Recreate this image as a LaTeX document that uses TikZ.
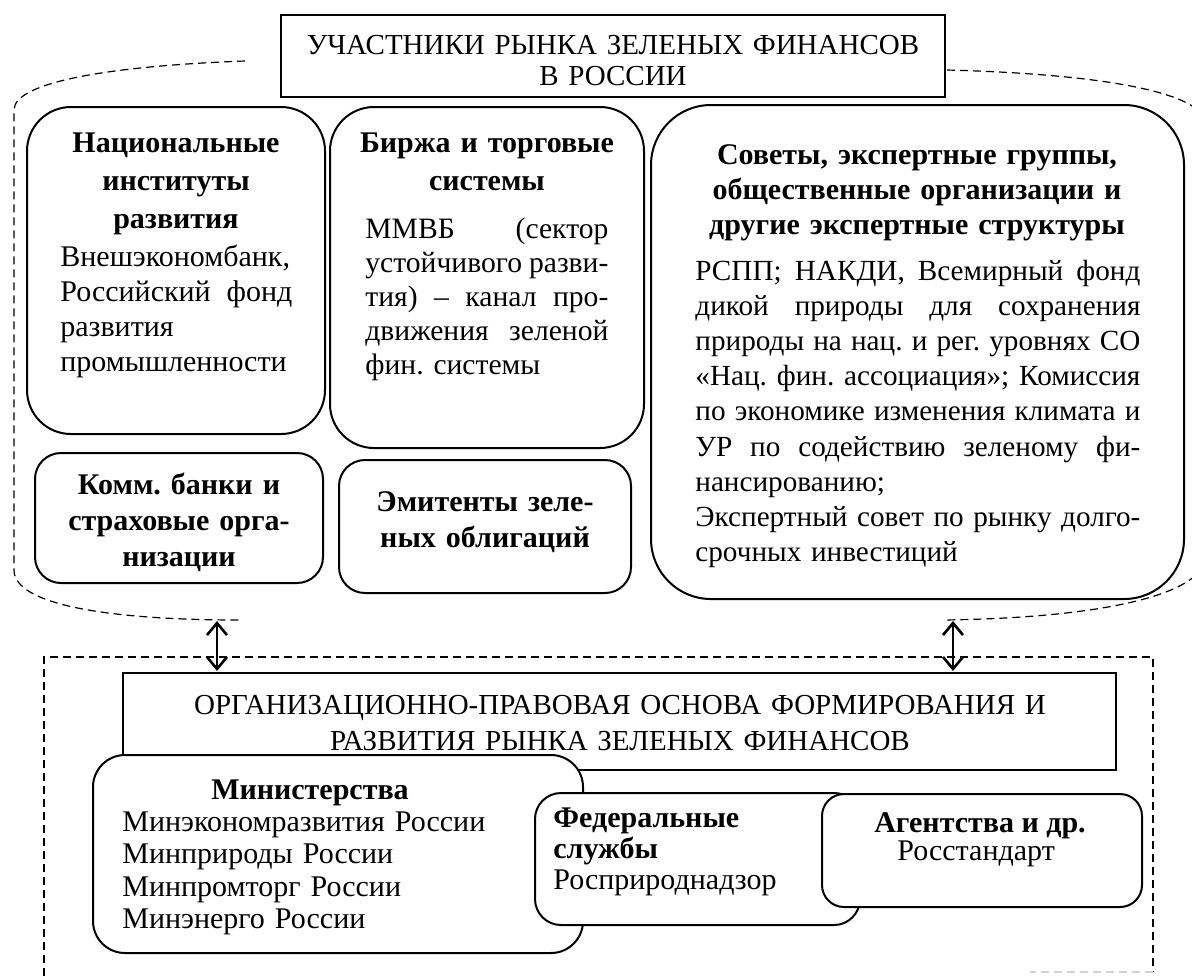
\documentclass[tikz,border=0pt]{standalone}
\usepackage{fontspec}
\setmainfont{Liberation Serif}
\usetikzlibrary{fit,arrows.meta}
\newcommand\jl[2]{\leavevmode\hbox to #1{\spaceskip=.25em plus 1fil minus .12em\relax #2}}
\frenchspacing
\begin{document}
\begin{tikzpicture}[x=0.5pt,y=-0.5pt,
  box/.style={draw,line width=1pt,inner sep=0pt,fill=white},
  tbox/.style={draw,line width=0.9pt,inner sep=0pt,fill=white},
  dsh/.style={line width=0.6pt,dash pattern=on 4pt off 2.5pt},
  txt/.style={inner sep=0pt,font=\fontsize{15}{17.5}\selectfont},
  hd/.style={inner sep=0pt,font=\fontsize{15}{17.5}\selectfont\bfseries},
  dbl/.style={line width=1.3pt,{Straight Barb[length=6pt,width=10pt,line width=1.3pt]}-{Straight Barb[length=6pt,width=10pt,line width=1.3pt]}}
]
\useasboundingbox (0,0) rectangle (1192,976);

% dashed enclosures
\draw[dsh] (245,61) .. controls (110,66) and (14,82) .. (14,110) -- (14,570) .. controls (14,605) and (110,620) .. (240,620);
\draw[dsh] (947,70) .. controls (1100,74) and (1206,92) .. (1206,125) -- (1206,555) .. controls (1206,595) and (1100,618) .. (943,620);
\draw[dsh] (44,976) -- (44,657) -- (1153,657) -- (1153,972);
\draw[dsh,gray!35] (1153,972) -- (1030,972);

% top title
\node[tbox,fit={(281,15) (945,97)}] (t1) {};
\node[txt,anchor=base,text width=330pt,align=center,font=\fontsize{14.5}{15.5}\selectfont] (t1t) at (613,54) {УЧАСТНИКИ РЫНКА ЗЕЛЕНЫХ ФИНАНСОВ\\В РОССИИ};

% Национальные институты развития
\node[box,rounded corners=22pt,fit={(27,107) (325,434)}] (nat) {};
\node[hd,anchor=base,text width=140pt,align=center,font=\fontsize{15}{19}\selectfont\bfseries] (natH) at (176,152) {Национальные\\институты\\развития};
\node[txt,anchor=base west,text width=116pt,align=left] (natB) at (60,266) {Внешэкономбанк,\\ \jl{116pt}{Российский фонд}\\развития\\промышленности};

% Биржа
\node[box,rounded corners=22pt,fit={(330,107) (644,448)}] (bir) {};
\node[hd,anchor=base,text width=150pt,align=center,font=\fontsize{15}{19}\selectfont\bfseries] (birH) at (487,152) {Биржа и торговые\\системы};
\node[txt,anchor=base west,text width=121.5pt,align=left,font=\fontsize{14.8}{17}\selectfont] (birB) at (365,238) {\jl{121.5pt}{ММВБ (сектор}\\ \jl{121.5pt}{устойчивого разви-}\\ \jl{121.5pt}{тия) – канал про-}\\ \jl{121.5pt}{движения зеленой}\\фин. системы};

% Советы
\node[box,rounded corners=30pt,fit={(651,105) (1184,599)}] (sov) {};
\node[hd,anchor=base,text width=250pt,align=center] (sovH) at (917,164) {Советы, экспертные группы,\\общественные организации и\\другие экспертные структуры};
\node[txt,anchor=base west,text width=222.5pt,align=left,font=\fontsize{14.6}{17.6}\selectfont] (sovB) at (695,280) {\jl{222.5pt}{РСПП; НАКДИ, Всемирный фонд}\\ \jl{222.5pt}{дикой природы для сохранения}\\ \jl{222.5pt}{природы на нац. и рег. уровнях СО}\\ \jl{222.5pt}{«Нац. фин. ассоциация»; Комиссия}\\ \jl{222.5pt}{по экономике изменения климата и}\\ \jl{222.5pt}{УР по содействию зеленому фи-}\\нансированию;\\ \jl{222.5pt}{Экспертный совет по рынку долго-}\\срочных инвестиций};

% Комм. банки
\node[box,rounded corners=13pt,fit={(35,453) (323,583)}] (kom) {};
\node[hd,anchor=base,text width=140pt,align=center,font=\fontsize{15}{18}\selectfont\bfseries] (komH) at (179,494) {Комм. банки и\\страховые орга-\\низации};

% Эмитенты
\node[box,rounded corners=13pt,fit={(339,460) (631,593)}] (emi) {};
\node[hd,anchor=base,text width=140pt,align=center,font=\fontsize{15}{18}\selectfont\bfseries] (emiH) at (485,511) {Эмитенты зеле-\\ных облигаций};

% arrows
\coordinate (a1t) at (217,621);
\coordinate (a1b) at (217,671);
\coordinate (a2t) at (953,621);
\coordinate (a2b) at (953,671);
\draw[dbl] (a1t) -- (a1b);
\draw[dbl] (a2t) -- (a2b);

% bottom title
\node[tbox,fit={(123,673) (1116,770)}] (t2) {};
\node[txt,anchor=base,text width=480pt,align=center,font=\fontsize{14.5}{18}\selectfont] (t2t) at (620,714) {ОРГАНИЗАЦИОННО-ПРАВОВАЯ ОСНОВА ФОРМИРОВАНИЯ И\\РАЗВИТИЯ РЫНКА ЗЕЛЕНЫХ ФИНАНСОВ};

% Министерства
\node[box,rounded corners=16pt,fit={(93,755) (583,953)}] (min) {};
\node[hd,anchor=base] (minH) at (310,799) {Министерства};
\node[txt,anchor=base west,text width=230pt,align=left,font=\fontsize{15}{16.3}\selectfont] (minB) at (122,831) {Минэкономразвития России\\Минприроды России\\Минпромторг России\\Минэнерго России};

% Федеральные службы
\node[box,rounded corners=13pt,fit={(535,793) (860,925)}] (fed) {};
\node[txt,anchor=base west,text width=150pt,align=left,font=\fontsize{15}{15.5}\selectfont] (fedB) at (553,827) {\textbf{Федеральные}\\\textbf{службы}\\Росприроднадзор};

% Агентства
\node[box,rounded corners=11pt,fit={(822,794) (1142,907)}] (agt) {};
\node[hd,anchor=base] (agtH) at (980,832) {Агентства и др.};
\node[txt,anchor=base west] (agtB) at (897,860) {Росстандарт};
\end{tikzpicture}
\end{document}
